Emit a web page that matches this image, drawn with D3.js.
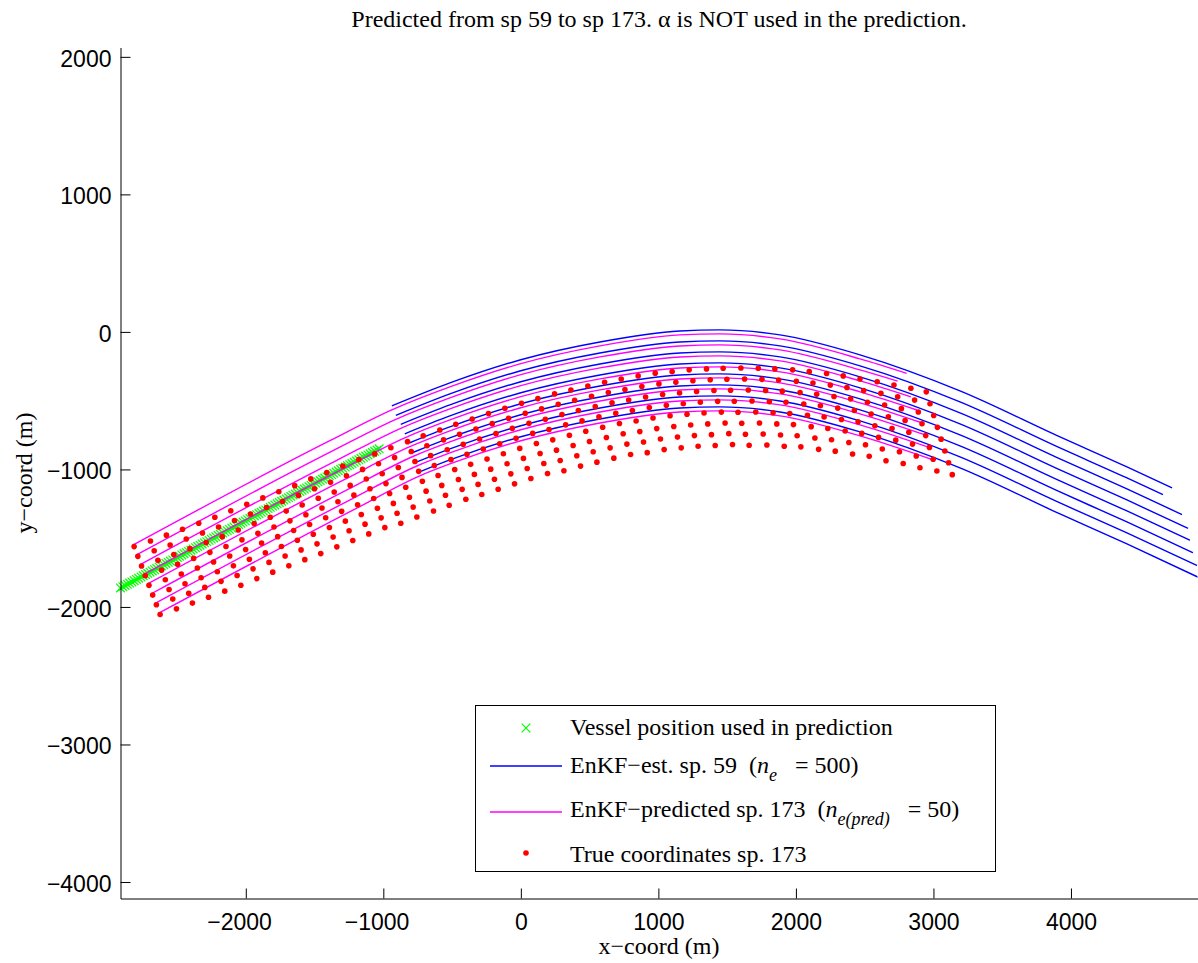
<!DOCTYPE html>
<html>
<head>
<meta charset="utf-8">
<script src="https://cdn.jsdelivr.net/npm/d3@7"></script>
<style>
  body { margin: 0; background: #fff; }
  svg { display: block; }
</style>
</head>
<body>
<div id="chart"></div>
<script>
const xTicks = [-2000, -1000, 0, 1000, 2000, 3000, 4000];
const yTicks = [-4000, -3000, -2000, -1000, 0, 1000, 2000];

// vessel positions sp 59 .. sp 173
const vesselX = [
  -2911,-2894,-2878,-2861,-2845,-2828,-2812,-2795,-2779,-2762,
  -2746,-2729,-2713,-2696,-2680,-2663,-2647,-2630,-2614,-2597,
  -2581,-2564,-2548,-2531,-2515,-2498,-2482,-2465,-2449,-2432,
  -2416,-2399,-2383,-2366,-2350,-2333,-2317,-2300,-2284,-2267,
  -2251,-2234,-2218,-2201,-2185,-2168,-2152,-2135,-2119,-2102,
  -2086,-2069,-2053,-2036,-2020,-2003,-1987,-1970,-1954,-1937,
  -1921,-1904,-1888,-1871,-1855,-1838,-1822,-1805,-1789,-1772,
  -1756,-1739,-1723,-1706,-1690,-1673,-1657,-1640,-1624,-1607,
  -1591,-1574,-1558,-1541,-1525,-1508,-1492,-1475,-1459,-1442,
  -1426,-1409,-1393,-1376,-1360,-1343,-1327,-1310,-1294,-1277,
  -1261,-1244,-1228,-1211,-1195,-1178,-1162,-1145,-1129,-1112,
  -1096,-1079,-1063,-1046,-1030
];
const vesselY = [
  -1862,-1853,-1844,-1835,-1826,-1818,-1809,-1800,-1791,-1782,
  -1773,-1764,-1755,-1747,-1738,-1729,-1720,-1711,-1702,-1693,
  -1684,-1676,-1667,-1658,-1649,-1640,-1631,-1622,-1613,-1605,
  -1596,-1587,-1578,-1569,-1560,-1551,-1542,-1534,-1525,-1516,
  -1507,-1498,-1489,-1480,-1471,-1463,-1454,-1445,-1436,-1427,
  -1418,-1409,-1400,-1392,-1383,-1374,-1365,-1356,-1347,-1338,
  -1329,-1321,-1312,-1303,-1294,-1285,-1276,-1267,-1258,-1250,
  -1241,-1232,-1223,-1214,-1205,-1196,-1187,-1179,-1170,-1161,
  -1152,-1143,-1134,-1125,-1116,-1108,-1099,-1090,-1081,-1072,
  -1063,-1054,-1045,-1037,-1028,-1019,-1010,-1001,-992,-983,
  -974,-966,-957,-948,-939,-930,-921,-912,-903,-895,
  -886,-877,-868,-859,-850
];

// EnKF-est. sp. 59, one line per streamer
const estimated = [
  [[-938,-538],[-516,-371],[-7,-204],[575,-73],[1156,7],[1447,15],[1884,-22],[2466,-167],[3193,-429],[3920,-764],[4407,-982],[4735,-1135]],
  [[-909,-607],[-516,-451],[-7,-284],[575,-153],[1156,-73],[1447,-65],[1884,-102],[2466,-247],[3193,-509],[3920,-844],[4407,-1062],[4669,-1184]],
  [[-873,-672],[-516,-531],[-7,-364],[575,-233],[1156,-153],[1447,-145],[1884,-182],[2466,-327],[3193,-589],[3920,-924],[4407,-1142],[4807,-1328]],
  [[-844,-741],[-516,-611],[-7,-444],[575,-313],[1156,-233],[1447,-225],[1884,-262],[2466,-407],[3193,-669],[3920,-1004],[4407,-1222],[4851,-1429]],
  [[-807,-806],[-516,-691],[-7,-524],[575,-393],[1156,-313],[1447,-305],[1884,-342],[2466,-487],[3193,-749],[3920,-1084],[4407,-1302],[4865,-1515]],
  [[-785,-877],[-516,-771],[-7,-604],[575,-473],[1156,-393],[1447,-385],[1884,-422],[2466,-567],[3193,-829],[3920,-1164],[4407,-1382],[4887,-1605]],
  [[-756,-946],[-516,-851],[-7,-684],[575,-553],[1156,-473],[1447,-465],[1884,-502],[2466,-647],[3193,-909],[3920,-1244],[4407,-1462],[4916,-1699]],
  [[-727,-1014],[-516,-931],[-7,-764],[575,-633],[1156,-553],[1447,-545],[1884,-582],[2466,-727],[3193,-989],[3920,-1324],[4407,-1542],[4960,-1800]]
];

// EnKF-predicted sp. 173
const predicted = [
  [[-2822,-1551],[-1389,-791],[-938,-567],[-516,-400],[-7,-233],[575,-102],[1156,-22],[1447,-14],[1884,-51],[2466,-196],[2805,-301]],
  [[-2795,-1622],[-1362,-862],[-909,-636],[-516,-480],[-7,-313],[575,-182],[1156,-102],[1447,-94],[1884,-131],[2466,-276],[2740,-358]],
  [[-2768,-1692],[-1335,-932],[-873,-701],[-516,-560],[-7,-393],[575,-262],[1156,-182],[1447,-174],[1884,-211],[2466,-356],[2836,-472]],
  [[-2741,-1763],[-1308,-1003],[-844,-770],[-516,-640],[-7,-473],[575,-342],[1156,-262],[1447,-254],[1884,-291],[2466,-436],[2880,-568]],
  [[-2714,-1833],[-1281,-1073],[-807,-835],[-516,-720],[-7,-553],[575,-422],[1156,-342],[1447,-334],[1884,-371],[2466,-516],[2909,-659]],
  [[-2687,-1904],[-1254,-1144],[-785,-906],[-516,-800],[-7,-633],[575,-502],[1156,-422],[1447,-414],[1884,-451],[2466,-596],[2945,-751]],
  [[-2660,-1974],[-1227,-1214],[-756,-975],[-516,-880],[-7,-713],[575,-582],[1156,-502],[1447,-494],[1884,-531],[2466,-676],[2989,-847]],
  [[-2633,-2045],[-1200,-1285],[-727,-1043],[-516,-960],[-7,-793],[575,-662],[1156,-582],[1447,-574],[1884,-611],[2466,-756],[3011,-935]]
];

// true receiver coordinates sp. 173, one row per streamer
const trueRows = [
  [[-2812,-1561],[-2693,-1520],[-2577,-1478],[-2460,-1435],[-2342,-1391],[-2225,-1348],[-2109,-1300],[-1993,-1253],[-1876,-1207],[-1760,-1162],[-1644,-1118],[-1527,-1069],[-1411,-1023],[-1295,-975],[-1178,-929],[-1062,-887],[-945,-842],[-824,-798],[-710,-756],[-589,-713],[-473,-671],[-354,-633],[-235,-594],[-116,-555],[5,-519],[124,-485],[245,-451],[364,-422],[487,-393],[609,-366],[730,-342],[853,-320],[977,-300],[1100,-289],[1224,-276],[1350,-269],[1471,-264],[1600,-262],[1726,-264],[1847,-269],[1976,-276],[2097,-289],[2223,-303],[2344,-320],[2466,-342],[2591,-362],[2713,-386],[2836,-410],[2948,-436]],
  [[-2785,-1632],[-2666,-1591],[-2550,-1549],[-2433,-1506],[-2315,-1462],[-2198,-1419],[-2082,-1371],[-1966,-1324],[-1849,-1278],[-1733,-1233],[-1617,-1189],[-1500,-1140],[-1384,-1094],[-1268,-1046],[-1151,-1000],[-1035,-959],[-918,-914],[-797,-870],[-683,-828],[-562,-785],[-446,-744],[-327,-706],[-208,-667],[-89,-628],[32,-592],[151,-560],[272,-526],[391,-497],[514,-468],[636,-441],[757,-419],[880,-397],[1004,-378],[1127,-367],[1251,-355],[1377,-348],[1498,-344],[1627,-342],[1753,-345],[1874,-350],[2003,-359],[2124,-372],[2250,-387],[2371,-404],[2493,-427],[2618,-447],[2740,-472],[2863,-496],[2975,-522]],
  [[-2758,-1702],[-2639,-1661],[-2523,-1619],[-2406,-1576],[-2288,-1532],[-2171,-1489],[-2055,-1441],[-1939,-1394],[-1822,-1348],[-1706,-1303],[-1590,-1259],[-1473,-1210],[-1357,-1164],[-1241,-1116],[-1124,-1070],[-1008,-1031],[-891,-986],[-770,-942],[-656,-900],[-535,-857],[-419,-817],[-300,-779],[-181,-740],[-62,-701],[59,-665],[178,-635],[299,-601],[418,-572],[541,-543],[663,-516],[784,-495],[907,-473],[1031,-455],[1154,-444],[1278,-433],[1404,-426],[1525,-424],[1654,-422],[1780,-426],[1901,-431],[2030,-441],[2151,-454],[2277,-470],[2398,-487],[2520,-512],[2645,-532],[2767,-558],[2890,-582],[3002,-608]],
  [[-2731,-1773],[-2612,-1732],[-2496,-1690],[-2379,-1647],[-2261,-1603],[-2144,-1560],[-2028,-1512],[-1912,-1465],[-1795,-1419],[-1679,-1374],[-1563,-1330],[-1446,-1281],[-1330,-1235],[-1214,-1187],[-1097,-1141],[-981,-1103],[-864,-1058],[-743,-1014],[-629,-972],[-508,-929],[-392,-890],[-273,-852],[-154,-813],[-35,-774],[86,-738],[205,-710],[326,-676],[445,-647],[568,-618],[690,-591],[811,-572],[934,-550],[1058,-533],[1181,-522],[1305,-512],[1431,-505],[1552,-504],[1681,-502],[1807,-507],[1928,-512],[2057,-524],[2178,-537],[2304,-554],[2425,-571],[2547,-597],[2672,-617],[2794,-644],[2917,-668],[3029,-694]],
  [[-2704,-1843],[-2585,-1802],[-2469,-1760],[-2352,-1717],[-2234,-1673],[-2117,-1630],[-2001,-1582],[-1885,-1535],[-1768,-1489],[-1652,-1444],[-1536,-1400],[-1419,-1351],[-1303,-1305],[-1187,-1257],[-1070,-1211],[-954,-1175],[-837,-1130],[-716,-1086],[-602,-1044],[-481,-1001],[-365,-963],[-246,-925],[-127,-886],[-8,-847],[113,-811],[232,-785],[353,-751],[472,-722],[595,-693],[717,-666],[838,-648],[961,-626],[1085,-610],[1208,-599],[1332,-590],[1458,-583],[1579,-584],[1708,-582],[1834,-588],[1955,-593],[2084,-606],[2205,-619],[2331,-637],[2452,-654],[2574,-682],[2699,-702],[2821,-730],[2944,-754],[3056,-780]],
  [[-2677,-1914],[-2558,-1873],[-2442,-1831],[-2325,-1788],[-2207,-1744],[-2090,-1701],[-1974,-1653],[-1858,-1606],[-1741,-1560],[-1625,-1515],[-1509,-1471],[-1392,-1422],[-1276,-1376],[-1160,-1328],[-1043,-1282],[-927,-1247],[-810,-1202],[-689,-1158],[-575,-1116],[-454,-1073],[-338,-1036],[-219,-998],[-100,-959],[19,-920],[140,-884],[259,-860],[380,-826],[499,-797],[622,-768],[744,-741],[865,-725],[988,-703],[1112,-688],[1235,-677],[1359,-669],[1485,-662],[1606,-664],[1735,-662],[1861,-669],[1982,-674],[2111,-689],[2232,-702],[2358,-721],[2479,-738],[2601,-767],[2726,-787],[2848,-816],[2971,-840],[3083,-866]],
  [[-2650,-1984],[-2531,-1943],[-2415,-1901],[-2298,-1858],[-2180,-1814],[-2063,-1771],[-1947,-1723],[-1831,-1676],[-1714,-1630],[-1598,-1585],[-1482,-1541],[-1365,-1492],[-1249,-1446],[-1133,-1398],[-1016,-1352],[-900,-1319],[-783,-1274],[-662,-1230],[-548,-1188],[-427,-1145],[-311,-1109],[-192,-1071],[-73,-1032],[46,-993],[167,-957],[286,-935],[407,-901],[526,-872],[649,-843],[771,-816],[892,-801],[1015,-779],[1139,-765],[1262,-754],[1386,-747],[1512,-740],[1633,-744],[1762,-742],[1888,-750],[2009,-755],[2138,-771],[2259,-784],[2385,-804],[2506,-821],[2628,-852],[2753,-872],[2875,-902],[2998,-926],[3110,-952]],
  [[-2623,-2055],[-2504,-2014],[-2388,-1972],[-2271,-1929],[-2153,-1885],[-2036,-1842],[-1920,-1794],[-1804,-1747],[-1687,-1701],[-1571,-1656],[-1455,-1612],[-1338,-1563],[-1222,-1517],[-1106,-1469],[-989,-1423],[-873,-1391],[-756,-1346],[-635,-1302],[-521,-1260],[-400,-1217],[-284,-1182],[-165,-1144],[-46,-1105],[73,-1066],[194,-1030],[313,-1010],[434,-976],[553,-947],[676,-918],[798,-891],[919,-878],[1042,-856],[1166,-843],[1289,-832],[1413,-826],[1539,-819],[1660,-824],[1789,-822],[1915,-831],[2036,-836],[2165,-854],[2286,-867],[2412,-888],[2533,-905],[2655,-937],[2780,-957],[2902,-988],[3025,-1012],[3137,-1038]]
];

const width = 1198;
const height = 963;
const serif = "'Times New Roman', 'Liberation Serif', Times, serif";
const sans = "Helvetica, Arial, 'Liberation Sans', sans-serif";

const x = d3.scaleLinear().domain([-2911, 4920]).range([120.5, 1197.5]);
const y = d3.scaleLinear().domain([-4120, 2068]).range([898.5, 47.5]);

const svg = d3.select("#chart")
    .append("svg")
    .attr("width", width)
    .attr("height", height);

svg.append("defs").append("clipPath")
    .attr("id", "plot-area")
    .append("rect")
    .attr("x", 120.5)
    .attr("y", 47.5)
    .attr("width", 1077)
    .attr("height", 851);

const xMark = "M-4.3,-4.3L4.3,4.3M-4.3,4.3L4.3,-4.3";

// vessel positions
svg.append("g")
    .selectAll("path")
    .data(vesselX.map((v, i) => [v, vesselY[i]]))
    .join("path")
    .attr("transform", d => `translate(${x(d[0])},${y(d[1])})`)
    .attr("d", xMark)
    .attr("fill", "none")
    .attr("stroke", "#00ff00")
    .attr("stroke-width", 1.2);

const line = d3.line()
    .x(d => x(d[0]))
    .y(d => y(d[1]))
    .curve(d3.curveMonotoneX);

const lines = svg.append("g").attr("clip-path", "url(#plot-area)");

lines.selectAll(".est")
    .data(estimated)
    .join("path")
    .attr("class", "est")
    .attr("d", line)
    .attr("fill", "none")
    .attr("stroke", "#0000ff")
    .attr("stroke-width", 1.4);

lines.selectAll(".pred")
    .data(predicted)
    .join("path")
    .attr("class", "pred")
    .attr("d", line)
    .attr("fill", "none")
    .attr("stroke", "#ff00ff")
    .attr("stroke-width", 1.4);

// true coordinates
svg.append("g")
    .selectAll("circle")
    .data(trueRows.flat())
    .join("circle")
    .attr("cx", d => x(d[0]))
    .attr("cy", d => y(d[1]))
    .attr("r", 2.8)
    .attr("fill", "#ff0000");

// axes
const fmt = d3.format("d");
const xAxis = svg.append("g")
    .attr("transform", `translate(0,${898.5})`)
    .call(d3.axisBottom(x).tickValues(xTicks).tickFormat(fmt)
        .tickSizeInner(-10).tickSizeOuter(0).tickPadding(15));
const yAxis = svg.append("g")
    .attr("transform", `translate(${120.5},0)`)
    .call(d3.axisLeft(y).tickValues(yTicks).tickFormat(fmt)
        .tickSizeInner(-10).tickSizeOuter(0).tickPadding(9));

[xAxis, yAxis].forEach(g => {
    g.attr("color", "#000");
    g.selectAll("text")
        .attr("font-family", sans)
        .attr("font-size", "23px")
        .attr("fill", "#000");
    g.select(".domain").attr("stroke-width", 1);
});
yAxis.selectAll(".tick text").attr("dy", "0.41em");

// digits centred on the tick, minus sign hanging to the left
xAxis.selectAll(".tick text").each(function(d) {
    if (d < 0) {
        const full = this.getComputedTextLength();
        const t = this.textContent;
        this.textContent = t.slice(1);
        const digits = this.getComputedTextLength();
        this.textContent = t;
        d3.select(this).attr("x", -(full - digits) / 2);
    }
});

// title and labels
svg.append("text")
    .attr("x", 659)
    .attr("y", 27)
    .attr("text-anchor", "middle")
    .attr("font-family", serif)
    .attr("font-size", "24px")
    .text("Predicted from sp 59 to sp 173. \u03b1 is NOT used in the prediction.");

svg.append("text")
    .attr("x", 659)
    .attr("y", 954)
    .attr("text-anchor", "middle")
    .attr("font-family", serif)
    .attr("font-size", "24px")
    .text("x\u2212coord (m)");

svg.append("text")
    .attr("transform", "translate(32,473) rotate(-90)")
    .attr("text-anchor", "middle")
    .attr("font-family", serif)
    .attr("font-size", "24px")
    .text("y\u2212coord (m)");

// legend
const legend = svg.append("g");
legend.append("rect")
    .attr("x", 475.5)
    .attr("y", 705.5)
    .attr("width", 520)
    .attr("height", 166)
    .attr("fill", "#fff")
    .attr("stroke", "#000")
    .attr("stroke-width", 1);

legend.append("path")
    .attr("transform", "translate(526,728)")
    .attr("d", xMark)
    .attr("fill", "none")
    .attr("stroke", "#00ff00")
    .attr("stroke-width", 1.2);
legend.append("line")
    .attr("x1", 490).attr("x2", 562).attr("y1", 766).attr("y2", 766)
    .attr("stroke", "#0000ff").attr("stroke-width", 1.4);
legend.append("line")
    .attr("x1", 490).attr("x2", 562).attr("y1", 812).attr("y2", 812)
    .attr("stroke", "#ff00ff").attr("stroke-width", 1.4);
legend.append("circle")
    .attr("cx", 526).attr("cy", 853).attr("r", 2.8)
    .attr("fill", "#ff0000");

function legendText(yPos, parts) {
    const t = legend.append("text")
        .attr("x", 570)
        .attr("y", yPos)
        .attr("font-family", serif)
        .attr("font-size", "24px")
        .style("white-space", "pre");
    parts.forEach(p => {
        const s = t.append("tspan").text(p.text);
        if (p.italic) s.attr("font-style", "italic");
        if (p.sub) s.attr("font-size", "18px").attr("dy", 8);
        if (p.back) s.attr("dy", -8);
    });
}

legendText(735, [{ text: "Vessel position used in prediction" }]);
legendText(773, [
    { text: "EnKF\u2212est. sp. 59  (" },
    { text: "n", italic: true },
    { text: "e", italic: true, sub: true },
    { text: "\u2002 = 500)", back: true }
]);
legendText(817, [
    { text: "EnKF\u2212predicted sp. 173  (" },
    { text: "n", italic: true },
    { text: "e(pred)", italic: true, sub: true },
    { text: "\u2002 = 50)", back: true }
]);
legendText(862, [{ text: "True coordinates sp. 173" }]);
</script>
</body>
</html>
